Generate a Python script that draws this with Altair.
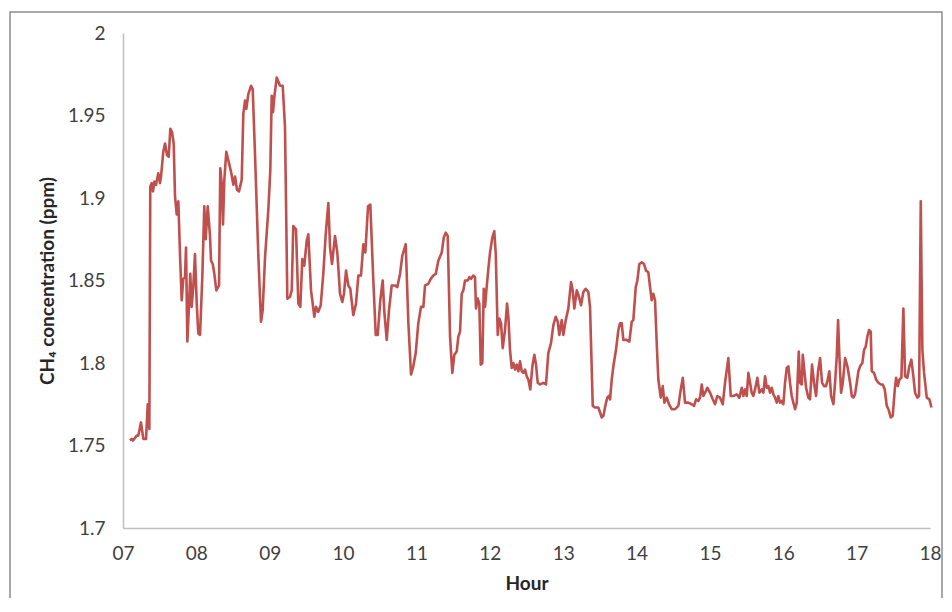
import altair as alt
import pandas as pd

hours = [7.095, 7.119, 7.136, 7.187, 7.209, 7.245, 7.277, 7.314, 7.337, 7.359,
         7.372, 7.391, 7.409, 7.427, 7.450, 7.481, 7.504, 7.518, 7.549, 7.573,
         7.600, 7.623, 7.645, 7.668, 7.691, 7.709, 7.732, 7.754, 7.777, 7.800,
         7.822, 7.845, 7.859, 7.877, 7.900, 7.917, 7.936, 7.958, 7.981, 8.005,
         8.026, 8.050, 8.081, 8.108, 8.127, 8.155, 8.186, 8.200, 8.223, 8.245,
         8.272, 8.309, 8.326, 8.345, 8.363, 8.381, 8.408, 8.435, 8.472, 8.504,
         8.527, 8.554, 8.581, 8.618, 8.640, 8.663, 8.681, 8.708, 8.745, 8.768,
         8.799, 8.844, 8.881, 8.904, 8.936, 8.981, 9.008, 9.027, 9.045, 9.062,
         9.095, 9.140, 9.177, 9.208, 9.240, 9.276, 9.300, 9.321, 9.358, 9.390,
         9.417, 9.444, 9.471, 9.504, 9.526, 9.563, 9.608, 9.631, 9.662, 9.695,
         9.730, 9.763, 9.799, 9.822, 9.849, 9.890, 9.921, 9.958, 9.989, 10.012,
         10.040, 10.071, 10.098, 10.139, 10.176, 10.208, 10.244, 10.276, 10.303, 10.340,
         10.371, 10.412, 10.445, 10.472, 10.507, 10.540, 10.562, 10.595, 10.626, 10.663,
         10.708, 10.739, 10.776, 10.807, 10.854, 10.889, 10.926, 10.957, 10.990, 11.025,
         11.062, 11.094, 11.117, 11.162, 11.195, 11.230, 11.263, 11.298, 11.326, 11.345,
         11.372, 11.399, 11.426, 11.458, 11.489, 11.516, 11.549, 11.571, 11.594, 11.617,
         11.639, 11.662, 11.699, 11.721, 11.744, 11.775, 11.798, 11.812, 11.835, 11.857,
         11.876, 11.898, 11.917, 11.935, 11.953, 11.980, 12.003, 12.034, 12.061, 12.081,
         12.108, 12.130, 12.153, 12.176, 12.207, 12.235, 12.253, 12.275, 12.299, 12.321,
         12.344, 12.367, 12.389, 12.412, 12.435, 12.457, 12.480, 12.503, 12.525, 12.552,
         12.580, 12.607, 12.630, 12.653, 12.684, 12.729, 12.766, 12.797, 12.834, 12.866,
         12.898, 12.926, 12.947, 12.980, 13.002, 13.035, 13.070, 13.107, 13.130, 13.152,
         13.185, 13.216, 13.243, 13.275, 13.307, 13.343, 13.366, 13.403, 13.434, 13.479,
         13.526, 13.548, 13.584, 13.602, 13.621, 13.639, 13.662, 13.684, 13.720, 13.752,
         13.775, 13.798, 13.820, 13.866, 13.902, 13.934, 13.956, 13.989, 14.011, 14.038,
         14.071, 14.102, 14.129, 14.161, 14.184, 14.207, 14.229, 14.252, 14.275, 14.297,
         14.330, 14.357, 14.379, 14.412, 14.443, 14.480, 14.525, 14.570, 14.603, 14.630,
         14.661, 14.706, 14.752, 14.784, 14.811, 14.843, 14.865, 14.889, 14.911, 14.934,
         14.965, 15.002, 15.039, 15.070, 15.101, 15.138, 15.175, 15.206, 15.251, 15.284,
         15.319, 15.366, 15.401, 15.434, 15.456, 15.479, 15.502, 15.524, 15.547, 15.570,
         15.592, 15.615, 15.647, 15.674, 15.707, 15.729, 15.752, 15.775, 15.797, 15.820,
         15.843, 15.865, 15.888, 15.911, 15.933, 15.956, 15.979, 16.001, 16.024, 16.047,
         16.069, 16.092, 16.115, 16.137, 16.161, 16.184, 16.211, 16.229, 16.252, 16.266,
         16.288, 16.311, 16.342, 16.365, 16.392, 16.419, 16.447, 16.474, 16.502, 16.529,
         16.556, 16.583, 16.606, 16.628, 16.652, 16.683, 16.706, 16.729, 16.747, 16.765,
         16.788, 16.811, 16.843, 16.874, 16.911, 16.934, 16.955, 16.978, 17.002, 17.024,
         17.047, 17.078, 17.101, 17.124, 17.146, 17.169, 17.192, 17.206, 17.237, 17.265,
         17.296, 17.329, 17.356, 17.383, 17.411, 17.433, 17.465, 17.492, 17.520, 17.538,
         17.561, 17.583, 17.610, 17.637, 17.660, 17.691, 17.719, 17.746, 17.773, 17.796,
         17.828, 17.851, 17.874, 17.896, 17.919, 17.956, 17.991, 18.020]

ch4_ppm = [1.753, 1.754, 1.753, 1.756, 1.756, 1.764, 1.754, 1.754, 1.775, 1.760,
           1.907, 1.909, 1.904, 1.910, 1.908, 1.915, 1.909, 1.913, 1.928, 1.933,
           1.926, 1.925, 1.942, 1.940, 1.933, 1.901, 1.890, 1.898, 1.866, 1.838,
           1.851, 1.852, 1.870, 1.813, 1.836, 1.854, 1.834, 1.846, 1.866, 1.836,
           1.818, 1.817, 1.852, 1.895, 1.875, 1.895, 1.877, 1.862, 1.860, 1.854,
           1.844, 1.847, 1.918, 1.909, 1.884, 1.911, 1.928, 1.923, 1.916, 1.908,
           1.913, 1.905, 1.904, 1.911, 1.951, 1.959, 1.954, 1.963, 1.968, 1.966,
           1.927, 1.866, 1.825, 1.832, 1.864, 1.893, 1.917, 1.962, 1.952, 1.961,
           1.973, 1.968, 1.968, 1.943, 1.839, 1.840, 1.844, 1.883, 1.881, 1.836,
           1.834, 1.863, 1.859, 1.874, 1.878, 1.844, 1.828, 1.834, 1.831, 1.835,
           1.854, 1.878, 1.897, 1.870, 1.860, 1.877, 1.867, 1.842, 1.837, 1.842,
           1.856, 1.847, 1.845, 1.829, 1.836, 1.853, 1.853, 1.872, 1.867, 1.895,
           1.896, 1.850, 1.817, 1.817, 1.838, 1.850, 1.831, 1.814, 1.832, 1.847,
           1.847, 1.846, 1.854, 1.865, 1.872, 1.825, 1.793, 1.798, 1.806, 1.824,
           1.834, 1.834, 1.847, 1.848, 1.851, 1.853, 1.854, 1.862, 1.865, 1.867,
           1.876, 1.879, 1.877, 1.816, 1.794, 1.805, 1.807, 1.816, 1.819, 1.842,
           1.844, 1.850, 1.850, 1.852, 1.851, 1.853, 1.852, 1.833, 1.839, 1.836,
           1.799, 1.800, 1.845, 1.834, 1.844, 1.857, 1.867, 1.876, 1.880, 1.866,
           1.817, 1.827, 1.824, 1.809, 1.820, 1.836, 1.828, 1.808, 1.797, 1.800,
           1.796, 1.799, 1.795, 1.801, 1.795, 1.794, 1.796, 1.792, 1.790, 1.784,
           1.798, 1.805, 1.799, 1.788, 1.787, 1.788, 1.787, 1.806, 1.812, 1.823,
           1.828, 1.825, 1.817, 1.826, 1.817, 1.826, 1.833, 1.849, 1.844, 1.833,
           1.844, 1.840, 1.835, 1.843, 1.845, 1.843, 1.834, 1.774, 1.773, 1.773,
           1.767, 1.768, 1.776, 1.779, 1.780, 1.778, 1.790, 1.798, 1.808, 1.820,
           1.824, 1.824, 1.814, 1.814, 1.813, 1.825, 1.826, 1.846, 1.850, 1.860,
           1.861, 1.860, 1.856, 1.855, 1.846, 1.838, 1.842, 1.838, 1.812, 1.790,
           1.779, 1.786, 1.776, 1.779, 1.775, 1.772, 1.772, 1.774, 1.784, 1.791,
           1.776, 1.776, 1.775, 1.774, 1.778, 1.777, 1.779, 1.787, 1.780, 1.782,
           1.785, 1.782, 1.778, 1.775, 1.780, 1.779, 1.775, 1.788, 1.803, 1.780,
           1.780, 1.781, 1.779, 1.785, 1.780, 1.784, 1.780, 1.794, 1.788, 1.782,
           1.780, 1.784, 1.791, 1.782, 1.784, 1.782, 1.792, 1.785, 1.786, 1.782,
           1.785, 1.781, 1.779, 1.776, 1.780, 1.776, 1.777, 1.775, 1.788, 1.797,
           1.798, 1.788, 1.780, 1.776, 1.772, 1.776, 1.807, 1.788, 1.787, 1.805,
           1.795, 1.785, 1.779, 1.778, 1.799, 1.788, 1.780, 1.795, 1.803, 1.788,
           1.786, 1.786, 1.790, 1.795, 1.780, 1.775, 1.788, 1.804, 1.826, 1.804,
           1.782, 1.788, 1.803, 1.798, 1.788, 1.780, 1.779, 1.781, 1.788, 1.795,
           1.798, 1.800, 1.808, 1.810, 1.816, 1.820, 1.819, 1.795, 1.794, 1.790,
           1.788, 1.787, 1.787, 1.784, 1.774, 1.772, 1.767, 1.768, 1.784, 1.791,
           1.786, 1.790, 1.791, 1.833, 1.792, 1.791, 1.798, 1.802, 1.792, 1.782,
           1.779, 1.780, 1.898, 1.808, 1.794, 1.779, 1.778, 1.773]

hour_ticks = [7, 8, 9, 10, 11, 12, 13, 14, 15, 16, 17, 18]
ppm_ticks = [1.7, 1.75, 1.8, 1.85, 1.9, 1.95, 2.0]

df = pd.DataFrame({"hour": hours, "ch4": ch4_ppm})

FONT = "Lato"
TEXT = "#404040"

line = alt.Chart(df).mark_line(color="#C0504D", strokeWidth=2.6, strokeJoin="round", clip=False).encode(
    x=alt.X("hour:Q",
            scale=alt.Scale(domain=[7, 18], nice=False, zero=False),
            axis=alt.Axis(values=hour_ticks, title="Hour",
                          labelExpr="datum.value < 10 ? '0' + datum.value : '' + datum.value",
                          labelFlush=False, labelOverlap=False,
                          grid=False, ticks=False, domainColor="#BFBFBF", domainWidth=1.5,
                          labelFont=FONT, labelFontSize=19, labelColor=TEXT, labelPadding=16,
                          titleFont=FONT, titleFontSize=19, titleFontWeight="bold",
                          titleColor="#262626", titlePadding=11)),
    y=alt.Y("ch4:Q",
            scale=alt.Scale(domain=[1.7, 2.0], nice=False, zero=False),
            axis=alt.Axis(values=ppm_ticks, title="CH₄ concentration (ppm)", format=".2~f",
                          labelFlush=False, labelOverlap=False,
                          grid=False, ticks=False, domainColor="#BFBFBF", domainWidth=1.5,
                          labelFont=FONT, labelFontSize=19, labelColor=TEXT, labelPadding=18,
                          titleFont=FONT, titleFontSize=19, titleFontWeight="bold",
                          titleColor="#262626", titlePadding=10)),
)

frame = alt.Chart(pd.DataFrame({"k": [0]})).mark_rect(
    fillOpacity=0, stroke="#8C8C8C", strokeWidth=1.5
).encode(
    x=alt.value(-113), x2=alt.value(819), y=alt.value(-21), y2=alt.value(620)
)

chart = alt.layer(frame, line).properties(
    width=807, height=495,
    autosize="none",
    padding={"left": 115, "top": 25, "right": 14, "bottom": 70},
).configure_view(stroke=None)

chart.save("out.html", embed_options={"renderer": "svg", "actions": False})
